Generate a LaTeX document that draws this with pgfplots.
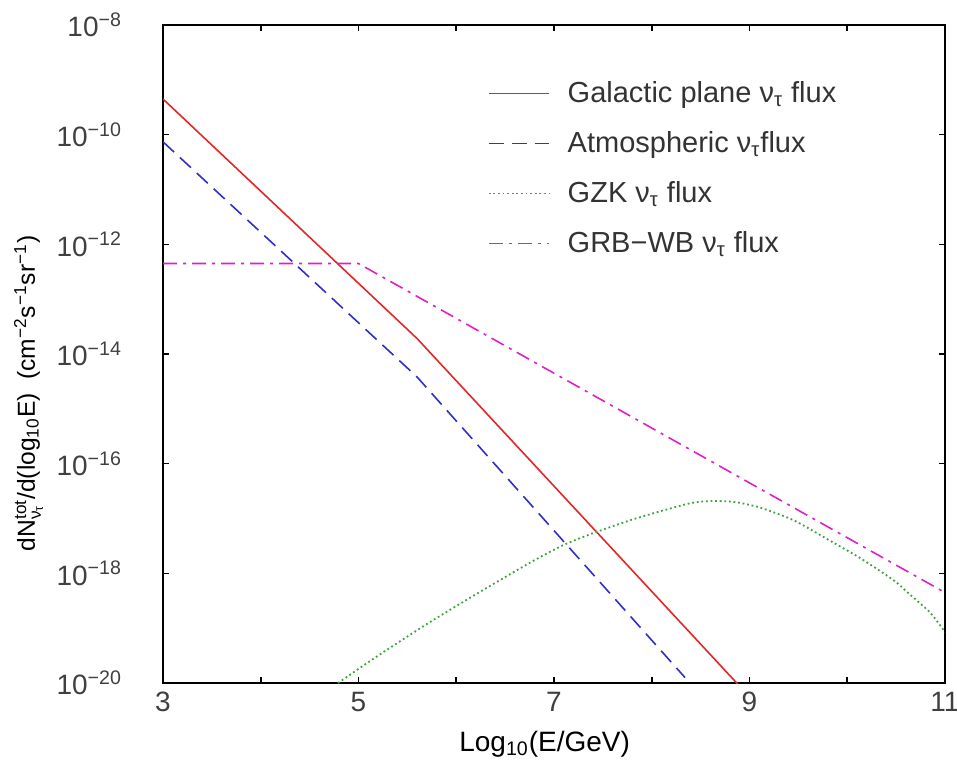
\documentclass[border=0pt]{standalone}
\usepackage{amsmath}
\usepackage{fontspec}
\setmainfont{Liberation Sans}
\usepackage{pgfplots}
\pgfplotsset{compat=1.18}

\definecolor{galred}{RGB}{228,38,38}
\definecolor{atmblue}{RGB}{48,48,200}
\definecolor{gzkgreen}{RGB}{60,165,60}
\definecolor{grbmag}{RGB}{225,30,200}

% legend sample: colour, line width, dash pattern
\newcommand{\legline}[3]{%
  \begin{pgfscope}
    \pgfsetlinewidth{#2}%
    \pgfsetdash{#3}{0pt}%
    \pgfsetstrokecolor{#1}%
    \pgfpathmoveto{\pgfpoint{0pt}{0pt}}%
    \pgfpathlineto{\pgfpoint{30pt}{0pt}}%
    \pgfusepath{stroke}%
  \end{pgfscope}}

\begin{document}
\begin{tikzpicture}
\begin{axis}[
  scale only axis,
  width=391pt, height=329pt,
  ymode=log,
  xmin=3, xmax=11,
  ymin=1e-20, ymax=1e-8,
  axis line style={line width=0.9pt},
  every tick/.style={black, line width=0.8pt},
  major tick length=3pt,
  tick align=inside,
  xtick={3,4,5,6,7,8,9,10,11},
  xticklabels={3,,5,,7,,9,,11},
  ytick={1e-20,1e-18,1e-16,1e-14,1e-12,1e-10,1e-8},
  yticklabels={10\textsuperscript{−20},10\textsuperscript{−18},10\textsuperscript{−16},10\textsuperscript{−14},10\textsuperscript{−12},10\textsuperscript{−10},10\textsuperscript{−8}},
  minor ytick={},
  yminorticks=false,
  ticklabel style={font=\fontsize{14}{16}\selectfont, text=black!75},
  yticklabel style={xshift=-17pt},
  xticklabel style={yshift=-1pt},
  xlabel={\fontsize{14}{16}\selectfont Log\textsubscript{10}(E/GeV)},
  ylabel={\fontsize{12.3}{15}\selectfont dN\ensuremath{^{\text{tot}}_{\text{ν}_{\text{τ}}}}/d(log\textsubscript{10}E)\ \ (cm\textsuperscript{−2}s\textsuperscript{−1}sr\textsuperscript{−1})},
  every axis x label/.style={at={(axis description cs:0.488,-0.093)}, anchor=center},
  every axis y label/.style={at={(axis description cs:-0.172,0.44)}, rotate=90, anchor=center},
  legend style={draw=none, fill=none, at={(axis description cs:0.415,0.921)}, anchor=north west,
    font=\fontsize{14.5}{17}\selectfont, text=black!80, row sep=9pt, inner sep=0pt},
  legend cell align=left,
]

% Galactic plane tau-neutrino flux (knee near 10^5.6 GeV)
\addplot[galred, line width=0.8pt,
  legend image code/.code={\legline{galred}{0.8pt}{}}] coordinates {
  (3, 4.47e-10) (5.6, 1.91e-14) (8.95, 7.0e-21)
};
\addlegendentry{\hspace*{7pt}Galactic plane ν\textsubscript{τ} flux}

% Atmospheric tau-neutrino flux
\addplot[atmblue, line width=0.8pt, dash pattern=on 7.5pt off 4pt,
  legend image code/.code={\legline{atmblue}{0.8pt}{{7.5pt}{4pt}}}] coordinates {
  (3, 7.41e-11) (5.6, 3.80e-15) (8.34, 1.26e-20)
};
\addlegendentry{\hspace*{7pt}Atmospheric ν\textsubscript{τ}flux}

% GZK tau-neutrino flux
\addplot[gzkgreen, line width=0.9pt, dash pattern=on 0.9pt off 1.4pt, smooth, tension=0.4,
  legend image code/.code={\legline{gzkgreen}{0.9pt}{{0.9pt}{1.4pt}}}] coordinates {
  (4.79, 1.0e-20) (5.2, 3.16e-20) (5.73, 1.29e-19) (6.25, 4.68e-19)
  (6.75, 1.55e-18) (7.1, 3.31e-18) (7.44, 5.75e-18) (7.8, 9.55e-18)
  (8.12, 1.41e-17) (8.4, 1.91e-17) (8.6, 2.09e-17) (8.85, 2.0e-17)
  (9.11, 1.58e-17) (9.45, 9.33e-18) (9.8, 4.17e-18) (10.13, 1.91e-18)
  (10.47, 7.59e-19) (10.65, 3.98e-19) (10.85, 1.91e-19) (11.0, 8.51e-20)
};
\addlegendentry{\hspace*{7pt}GZK ν\textsubscript{τ} flux}

% GRB (Waxman-Bahcall) tau-neutrino flux
\addplot[grbmag, line width=0.8pt, dash pattern=on 7pt off 3pt on 1.5pt off 3pt,
  legend image code/.code={\legline{grbmag}{0.8pt}{{7pt}{3pt}{1.5pt}{3pt}}}] coordinates {
  (3, 4.47e-13) (5, 4.47e-13) (11, 4.47e-19)
};
\addlegendentry{\hspace*{7pt}GRB−WB ν\textsubscript{τ} flux}

\end{axis}
\pgfresetboundingbox
\path ([shift={(-81.5pt,-39.5pt)}]current axis.south west)
  rectangle ([shift={(6pt,12.5pt)}]current axis.north east);
\end{tikzpicture}
\end{document}
